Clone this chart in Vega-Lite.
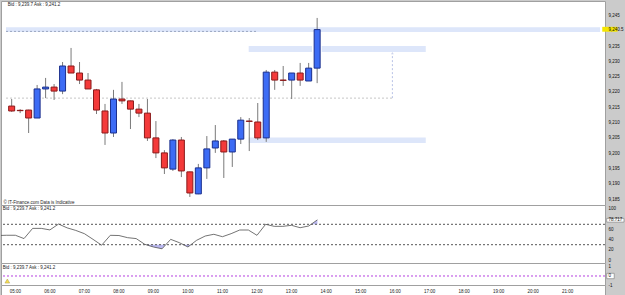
{
  "$schema": "https://vega.github.io/schema/vega-lite/v6.json",
  "padding": {"left": 0, "top": 0, "bottom": 0, "right": 6},
  "background": "#cbcbcb",
  "spacing": 0,
  "bounds": "flush",
  "config": {
    "view": {"fill": "white", "stroke": "#a0a0a0", "strokeWidth": 1},
    "font": "Liberation Sans",
    "axis": {"labelFont": "Liberation Sans", "labelFontSize": 4.5, "labelColor": "#111", "grid": false, "ticks": false, "domain": false, "labelOverlap": false, "labelFlush": false}
  },
  "datasets": {
    "candles": [
      {"t":"2021-03-01T04:45","o":9.2154,"h":9.2177,"l":9.2135,"c":9.2138},
      {"t":"2021-03-01T05:00","o":9.2140,"h":9.2144,"l":9.2131,"c":9.2139},
      {"t":"2021-03-01T05:15","o":9.2141,"h":9.2142,"l":9.2066,"c":9.2115},
      {"t":"2021-03-01T05:30","o":9.2115,"h":9.2223,"l":9.2115,"c":9.2210},
      {"t":"2021-03-01T05:45","o":9.2210,"h":9.2246,"l":9.2180,"c":9.2216},
      {"t":"2021-03-01T06:00","o":9.2216,"h":9.2226,"l":9.2174,"c":9.2203},
      {"t":"2021-03-01T06:15","o":9.2203,"h":9.2298,"l":9.2193,"c":9.2285},
      {"t":"2021-03-01T06:30","o":9.2285,"h":9.2344,"l":9.2262,"c":9.2262},
      {"t":"2021-03-01T06:45","o":9.2262,"h":9.2298,"l":9.2226,"c":9.2239},
      {"t":"2021-03-01T07:00","o":9.2239,"h":9.2262,"l":9.2210,"c":9.2210},
      {"t":"2021-03-01T07:15","o":9.2207,"h":9.2210,"l":9.2128,"c":9.2141},
      {"t":"2021-03-01T07:30","o":9.2138,"h":9.2161,"l":9.2027,"c":9.2066},
      {"t":"2021-03-01T07:45","o":9.2066,"h":9.2207,"l":9.2053,"c":9.2177},
      {"t":"2021-03-01T08:00","o":9.2177,"h":9.2233,"l":9.2161,"c":9.2171},
      {"t":"2021-03-01T08:15","o":9.2171,"h":9.2172,"l":9.2079,"c":9.2144},
      {"t":"2021-03-01T08:30","o":9.2144,"h":9.2161,"l":9.2118,"c":9.2131},
      {"t":"2021-03-01T08:45","o":9.2131,"h":9.2177,"l":9.2040,"c":9.2050},
      {"t":"2021-03-01T09:00","o":9.2050,"h":9.2105,"l":9.1984,"c":9.2001},
      {"t":"2021-03-01T09:15","o":9.2001,"h":9.2010,"l":9.1932,"c":9.1952},
      {"t":"2021-03-01T09:30","o":9.1948,"h":9.2046,"l":9.1942,"c":9.2043},
      {"t":"2021-03-01T09:45","o":9.2043,"h":9.2053,"l":9.1922,"c":9.1942},
      {"t":"2021-03-01T10:00","o":9.1939,"h":9.1940,"l":9.1857,"c":9.1870},
      {"t":"2021-03-01T10:15","o":9.1867,"h":9.1965,"l":9.1866,"c":9.1952},
      {"t":"2021-03-01T10:30","o":9.1952,"h":9.2056,"l":9.1916,"c":9.2014},
      {"t":"2021-03-01T10:45","o":9.2017,"h":9.2092,"l":9.2001,"c":9.2040},
      {"t":"2021-03-01T11:00","o":9.2040,"h":9.2043,"l":9.1919,"c":9.2004},
      {"t":"2021-03-01T11:15","o":9.2004,"h":9.2046,"l":9.1955,"c":9.2046},
      {"t":"2021-03-01T11:30","o":9.2046,"h":9.2118,"l":9.2030,"c":9.2108},
      {"t":"2021-03-01T11:45","o":9.2105,"h":9.2115,"l":9.2007,"c":9.2104},
      {"t":"2021-03-01T12:00","o":9.2102,"h":9.2164,"l":9.2043,"c":9.2050},
      {"t":"2021-03-01T12:15","o":9.2050,"h":9.2272,"l":9.2037,"c":9.2265},
      {"t":"2021-03-01T12:30","o":9.2265,"h":9.2272,"l":9.2207,"c":9.2239},
      {"t":"2021-03-01T12:45","o":9.2239,"h":9.2285,"l":9.2220,"c":9.2238},
      {"t":"2021-03-01T13:00","o":9.2239,"h":9.2262,"l":9.2177,"c":9.2262},
      {"t":"2021-03-01T13:15","o":9.2262,"h":9.2295,"l":9.2220,"c":9.2239},
      {"t":"2021-03-01T13:30","o":9.2236,"h":9.2295,"l":9.2236,"c":9.2278},
      {"t":"2021-03-01T13:45","o":9.2278,"h":9.2442,"l":9.2229,"c":9.2404}
    ],
    "bands": [
      {"t1":"2021-03-01T04:35","t2":"2021-03-01T22:05","p1":9.2396,"p2":9.2412},
      {"t1":"2021-03-01T11:44","t2":"2021-03-01T13:36","p1":9.2331,"p2":9.2350},
      {"t1":"2021-03-01T13:53","t2":"2021-03-01T16:57","p1":9.2331,"p2":9.2350},
      {"t1":"2021-03-01T11:44","t2":"2021-03-01T16:57","p1":9.2033,"p2":9.2051}
    ],
    "guides": [
      {"k":"bid","t1":"2021-03-01T04:35","t2":"2021-03-01T11:58","p1":9.2398,"p2":9.2398},
      {"k":"level","t1":"2021-03-01T04:35","t2":"2021-03-01T15:58","p1":9.2180,"p2":9.2180},
      {"k":"drop","t1":"2021-03-01T15:58","t2":"2021-03-01T15:58","p1":9.2180,"p2":9.2324}
    ],
    "arrow": [{"t":"2021-03-01T15:58","p":9.2327}],
    "quote": [{"label":"Bid : 9,239.7 Ask : 9,241.2"}],
    "rsi": [
      {"t":"2021-03-01T04:30","r":48},
      {"t":"2021-03-01T04:45","r":48.5},
      {"t":"2021-03-01T05:00","r":48.5},
      {"t":"2021-03-01T05:15","r":42},
      {"t":"2021-03-01T05:30","r":62},
      {"t":"2021-03-01T05:45","r":62},
      {"t":"2021-03-01T06:00","r":59},
      {"t":"2021-03-01T06:15","r":70.5},
      {"t":"2021-03-01T06:30","r":63},
      {"t":"2021-03-01T06:45","r":58},
      {"t":"2021-03-01T07:00","r":51.6},
      {"t":"2021-03-01T07:15","r":40.5},
      {"t":"2021-03-01T07:30","r":29},
      {"t":"2021-03-01T07:45","r":48.4},
      {"t":"2021-03-01T08:00","r":48},
      {"t":"2021-03-01T08:15","r":43.8},
      {"t":"2021-03-01T08:30","r":42},
      {"t":"2021-03-01T08:45","r":30.7},
      {"t":"2021-03-01T09:00","r":25.5},
      {"t":"2021-03-01T09:15","r":22},
      {"t":"2021-03-01T09:30","r":40.5},
      {"t":"2021-03-01T09:45","r":34},
      {"t":"2021-03-01T10:00","r":25.5},
      {"t":"2021-03-01T10:15","r":38.6},
      {"t":"2021-03-01T10:30","r":47},
      {"t":"2021-03-01T10:45","r":50.4},
      {"t":"2021-03-01T11:00","r":45.7},
      {"t":"2021-03-01T11:15","r":51.6},
      {"t":"2021-03-01T11:30","r":58.8},
      {"t":"2021-03-01T11:45","r":58.8},
      {"t":"2021-03-01T12:00","r":48.4},
      {"t":"2021-03-01T12:15","r":70},
      {"t":"2021-03-01T12:30","r":66},
      {"t":"2021-03-01T12:45","r":66},
      {"t":"2021-03-01T13:00","r":68},
      {"t":"2021-03-01T13:15","r":63.3},
      {"t":"2021-03-01T13:30","r":66.7},
      {"t":"2021-03-01T13:45","r":78.717}
    ],
    "rsifill": [
      {"g":"a","t":"2021-03-01T08:47","r":30,"base":30},
      {"g":"a","t":"2021-03-01T09:00","r":25.5,"base":30},
      {"g":"a","t":"2021-03-01T09:15","r":22,"base":30},
      {"g":"a","t":"2021-03-01T09:21","r":30,"base":30},
      {"g":"b","t":"2021-03-01T09:52","r":30,"base":30},
      {"g":"b","t":"2021-03-01T10:00","r":25.5,"base":30},
      {"g":"b","t":"2021-03-01T10:05","r":30,"base":30},
      {"g":"c","t":"2021-03-01T13:35","r":70,"base":70},
      {"g":"c","t":"2021-03-01T13:45","r":78.717,"base":70}
    ],
    "levels": [{"v":70},{"v":30}],
    "zero": [{"v":0}],
    "warn": [{"t":"2021-03-01T04:46","v":-0.56}],
    "hours": [
      {"t":"2021-03-01T05:00"},{"t":"2021-03-01T06:00"},{"t":"2021-03-01T07:00"},{"t":"2021-03-01T08:00"},
      {"t":"2021-03-01T09:00"},{"t":"2021-03-01T10:00"},{"t":"2021-03-01T11:00"},{"t":"2021-03-01T12:00"},
      {"t":"2021-03-01T13:00"},{"t":"2021-03-01T14:00"},{"t":"2021-03-01T15:00"},{"t":"2021-03-01T16:00"},
      {"t":"2021-03-01T17:00"},{"t":"2021-03-01T18:00"},{"t":"2021-03-01T19:00"},{"t":"2021-03-01T20:00"},
      {"t":"2021-03-01T21:00"}
    ]
  },
  "vconcat": [
    {
      "width": 604,
      "height": 204,
      "resolve": {"axis": {"y": "independent", "x": "independent"}},
      "layer": [
        {
          "data": {"name": "bands"},
          "mark": {"type": "rect", "color": "#dde6fa"},
          "encoding": {
            "x": {"field": "t1", "type": "temporal", "scale": {"domain": [{"year":2021,"month":3,"date":1,"hours":4,"minutes":35},{"year":2021,"month":3,"date":1,"hours":22,"minutes":5}]}, "axis": null},
            "x2": {"field": "t2"},
            "y": {"field": "p1", "type": "quantitative", "scale": {"domain": [9.18307, 9.24974], "nice": false, "zero": false}, "axis": null},
            "y2": {"field": "p2"}
          }
        },
        {
          "data": {"name": "guides"},
          "mark": {"type": "rule", "strokeDash": [2, 2], "strokeWidth": 1},
          "encoding": {
            "x": {"field": "t1", "type": "temporal", "axis": null},
            "x2": {"field": "t2"},
            "y": {"field": "p1", "type": "quantitative", "axis": null},
            "y2": {"field": "p2"},
            "color": {"field": "k", "type": "nominal", "scale": {"domain": ["bid","level","drop"], "range": ["#9aa6c0","#c6c6c6","#b8c2e6"]}, "legend": null}
          }
        },
        {
          "data": {"name": "arrow"},
          "mark": {"type": "point", "shape": "triangle-up", "size": 8, "filled": true, "color": "#b8c2e6"},
          "encoding": {
            "x": {"field": "t", "type": "temporal", "axis": null},
            "y": {"field": "p", "type": "quantitative", "axis": null}
          }
        },
        {
          "data": {"name": "quote"},
          "mark": {"type": "text", "fontSize": 4.5, "color": "#222222", "align": "left", "baseline": "middle"},
          "encoding": {
            "x": {"datum": {"year":2021,"month":3,"date":1,"hours":4,"minutes":38}, "type": "temporal", "axis": null},
            "y": {"datum": 9.2484, "type": "quantitative", "axis": null},
            "text": {"field": "label"}
          }
        },
        {
          "data": {"values": [{"t1":"2021-03-01T22:09","t2":"2021-03-01T22:36","p1":9.2397,"p2":9.2413}]},
          "mark": {"type": "rect", "color": "#f5e600"},
          "encoding": {
            "x": {"field": "t1", "type": "temporal", "axis": null},
            "x2": {"field": "t2"},
            "y": {"field": "p1", "type": "quantitative", "axis": null},
            "y2": {"field": "p2"}
          }
        },
        {
          "data": {"name": "candles"},
          "mark": {"type": "rule", "color": "#7a7a7a", "strokeWidth": 1},
          "encoding": {
            "x": {"field": "t", "type": "temporal", "axis": null},
            "y": {"field": "l", "type": "quantitative", "axis": null},
            "y2": {"field": "h"}
          }
        },
        {
          "data": {"name": "candles"},
          "mark": {"type": "bar", "size": 6, "strokeWidth": 1},
          "encoding": {
            "x": {"field": "t", "type": "temporal", "axis": {"orient": "bottom", "labels": false, "ticks": false, "domain": false, "title": "© IT-Finance.com Data is Indicative", "titleFontSize": 4.5, "titleFontWeight": "normal", "titleFont": "Liberation Sans", "titleColor": "#222", "titleAnchor": "start", "titleAlign": "left", "titleBaseline": "bottom", "titleX": 2, "titleY": -1}},
            "y": {"field": "o", "type": "quantitative", "axis": {"orient": "right", "title": null, "zindex": 1, "labelPadding": 3, "labelAlign": "left", "values": [9.185, 9.19, 9.195, 9.2, 9.205, 9.21, 9.215, 9.22, 9.225, 9.23, 9.235, 9.2405, 9.245], "labelExpr": "datum.value == 9.2405 ? '9,240.5' : replace(format(datum.value, '.3f'), '.', ',')"}},
            "y2": {"field": "c"},
            "fill": {"condition": {"test": "datum.c > datum.o", "value": "#3d6cf5"}, "value": "#f43a3a"},
            "stroke": {"condition": {"test": "datum.c > datum.o", "value": "#1b2f8c"}, "value": "#8a1a1a"}
          }
        }
      ]
    },
    {
      "width": 604,
      "height": 58,
      "resolve": {"axis": {"y": "independent"}},
      "layer": [
        {
          "data": {"name": "rsifill"},
          "mark": {"type": "area", "color": "#a9a6ee", "opacity": 0.8, "clip": true},
          "encoding": {
            "x": {"field": "t", "type": "temporal", "scale": {"domain": [{"year":2021,"month":3,"date":1,"hours":4,"minutes":35},{"year":2021,"month":3,"date":1,"hours":22,"minutes":5}]}, "axis": null},
            "y": {"field": "r", "type": "quantitative", "scale": {"domain": [-5.88, 107.84], "nice": false, "zero": false}, "axis": null},
            "y2": {"field": "base"},
            "detail": {"field": "g"}
          }
        },
        {
          "data": {"name": "levels"},
          "mark": {"type": "rule", "color": "#555555", "strokeDash": [2, 2], "strokeWidth": 1},
          "encoding": {
            "y": {"field": "v", "type": "quantitative", "axis": null}
          }
        },
        {
          "data": {"name": "quote"},
          "mark": {"type": "text", "fontSize": 4.5, "color": "#222222", "align": "left", "baseline": "middle"},
          "encoding": {
            "x": {"datum": {"year":2021,"month":3,"date":1,"hours":4,"minutes":38}, "type": "temporal", "axis": null},
            "y": {"datum": 100, "type": "quantitative", "axis": null},
            "text": {"field": "label"}
          }
        },
        {
          "data": {"values": [{"t1":"2021-03-01T22:08","t2":"2021-03-01T22:38","r1":74.3,"r2":81.6}]},
          "mark": {"type": "rect", "fill": "white", "stroke": "#777777", "strokeWidth": 0.6},
          "encoding": {
            "x": {"field": "t1", "type": "temporal", "axis": null},
            "x2": {"field": "t2"},
            "y": {"field": "r1", "type": "quantitative", "axis": null},
            "y2": {"field": "r2"}
          }
        },
        {
          "data": {"name": "rsi"},
          "mark": {"type": "line", "color": "#505050", "strokeWidth": 0.8, "clip": true},
          "encoding": {
            "x": {"field": "t", "type": "temporal", "axis": null},
            "y": {"field": "r", "type": "quantitative", "axis": {"orient": "right", "title": null, "zindex": 1, "labelPadding": 3, "labelAlign": "left", "values": [0, 20, 40, 60, 78.717, 100], "labelExpr": "datum.value == 78.717 ? '78.717' : '' + datum.value"}}
          }
        }
      ]
    },
    {
      "width": 604,
      "height": 22,
      "resolve": {"axis": {"y": "independent"}},
      "layer": [
        {
          "data": {"name": "zero"},
          "mark": {"type": "rule", "color": "#b53fe0", "strokeDash": [2, 2], "strokeWidth": 1},
          "encoding": {
            "y": {"field": "v", "type": "quantitative", "scale": {"domain": [-1.0, 1.444], "nice": false, "zero": false}, "axis": {"orient": "right", "title": null, "zindex": 1, "labelPadding": 3, "labelAlign": "left", "values": [-1, 0, 1], "labelExpr": "'' + datum.value"}}
          }
        },
        {
          "data": {"values": [{"t1":"2021-03-01T22:08","t2":"2021-03-01T22:21","v1":-0.3,"v2":0.3}]},
          "mark": {"type": "rect", "fill": "white", "stroke": "#777777", "strokeWidth": 0.6},
          "encoding": {
            "x": {"field": "t1", "type": "temporal", "scale": {"domain": [{"year":2021,"month":3,"date":1,"hours":4,"minutes":35},{"year":2021,"month":3,"date":1,"hours":22,"minutes":5}]}, "axis": null},
            "x2": {"field": "t2"},
            "y": {"field": "v1", "type": "quantitative", "axis": null},
            "y2": {"field": "v2"}
          }
        },
        {
          "data": {"name": "quote"},
          "mark": {"type": "text", "fontSize": 4.5, "color": "#222222", "align": "left", "baseline": "middle"},
          "encoding": {
            "x": {"datum": {"year":2021,"month":3,"date":1,"hours":4,"minutes":38}, "type": "temporal", "axis": null},
            "y": {"datum": 0.9, "type": "quantitative", "axis": null},
            "text": {"field": "label"}
          }
        },
        {
          "data": {"name": "warn"},
          "mark": {"type": "point", "shape": "triangle-up", "size": 22, "filled": true, "color": "#f2d20a", "stroke": "#8a7000", "strokeWidth": 0.5},
          "encoding": {
            "x": {"field": "t", "type": "temporal", "axis": null},
            "y": {"field": "v", "type": "quantitative", "axis": null}
          }
        }
      ]
    },
    {
      "width": 604,
      "height": 11,
      "data": {"name": "hours"},
      "mark": {"type": "text", "fontSize": 4.5, "color": "#222222", "baseline": "middle", "dy": 1.5},
      "encoding": {
        "x": {"field": "t", "type": "temporal", "scale": {"domain": [{"year":2021,"month":3,"date":1,"hours":4,"minutes":35},{"year":2021,"month":3,"date":1,"hours":22,"minutes":5}]}, "axis": null},
        "text": {"field": "t", "type": "temporal", "format": "%H:%M"}
      }
    }
  ]
}
